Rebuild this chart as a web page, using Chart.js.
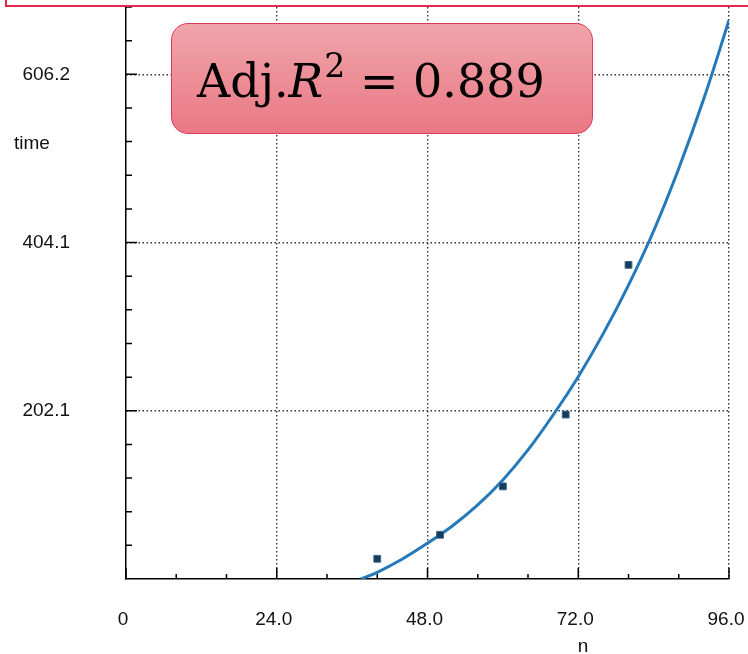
<!DOCTYPE html>
<html><head><meta charset="utf-8">
<script src="https://cdn.jsdelivr.net/npm/chart.js@4.4.1/dist/chart.umd.min.js"></script>
<style>
html,body{margin:0;padding:0;background:#fff;overflow:hidden;}
#wrap{position:relative;width:748px;height:654px;}
#c{position:absolute;left:0;top:0;}
#frame{position:absolute;left:4.5px;top:-40px;width:800px;height:43px;border:2.5px solid #e6284f;}
#note{position:absolute;left:171px;top:23px;width:422px;height:111px;box-sizing:border-box;border:1.5px solid #e0385c;border-radius:17px;background:linear-gradient(#f0a5aa,#ea7884);}
#noteText{position:absolute;left:25px;top:34px;font-family:"DejaVu Serif",serif;font-size:46px;line-height:46px;white-space:pre;color:#000;}
#noteText .it{font-style:italic;}
#noteText .sup{font-size:0.72em;position:relative;top:-0.6em;line-height:0;margin-left:1px;}
</style></head>
<body><div id="wrap">
<canvas id="c" width="748" height="654"></canvas>
<div id="frame"></div>
<div id="note"><div id="noteText">Adj.<span class="it">R</span><span class="sup">2</span> = 0.889</div></div>
</div>
<script>
// ---- data ----
const nValues = [40, 50, 60, 70, 80];
const timeValues = [24.3, 53.1, 111.2, 197.5, 377.3];
const fitN = [37.4, 40, 44, 48, 52, 56, 60, 64, 68, 72, 76, 80, 84, 88, 92, 96];
const fitTime = [0, 8, 24, 43, 64, 89, 119, 155, 197, 243, 295, 353, 418, 493, 577, 671];
const xTickValues = [0, 24, 48, 72, 96];
const xTickLabels = ['0', '24.0', '48.0', '72.0', '96.0'];
const xMinorValues = [8, 16, 32, 40, 56, 64, 80, 88];
const yTickValues = [202.05, 404.1, 606.15];
const yTickLabels = ['202.1', '404.1', '606.2'];
const yMinorValues = [40.41, 80.82, 121.23, 161.64, 242.46, 282.87, 323.28, 363.69, 444.51, 484.92, 525.33, 565.74, 646.56, 686.97];
const xTitle = 'n';
const yTitle = 'time';
const xMax = 96;
const yMax = 687;

const FONT = '"Liberation Sans", Arial, sans-serif';
const GRID = '#333333';

const tickPlugin = {
  id: 'innerTicks',
  beforeDatasetsDraw(chart) {
    const {ctx, chartArea: a, scales: {x, y}} = chart;
    ctx.save();
    ctx.strokeStyle = '#000';
    ctx.lineWidth = 1.5;
    ctx.beginPath();
    xMinorValues.forEach(v => { const p = x.getPixelForValue(v); ctx.moveTo(p, a.bottom); ctx.lineTo(p, a.bottom - 5); });
    xTickValues.forEach(v => { const p = x.getPixelForValue(v); ctx.moveTo(p, a.bottom); ctx.lineTo(p, a.bottom - 11); });
    yMinorValues.forEach(v => { const p = y.getPixelForValue(v); ctx.moveTo(a.left, p); ctx.lineTo(a.left + 6, p); });
    yTickValues.forEach(v => { const p = y.getPixelForValue(v); ctx.moveTo(a.left, p); ctx.lineTo(a.left + 11, p); });
    ctx.stroke();
    ctx.restore();
  },
  afterDraw(chart) {
    const {ctx} = chart;
    ctx.save();
    ctx.fillStyle = '#111';
    ctx.font = '19px ' + FONT;
    ctx.textBaseline = 'alphabetic';
    ctx.textAlign = 'left';
    ctx.fillText(yTitle, 14, 148.5);
    ctx.textAlign = 'center';
    ctx.fillText(xTitle, 583, 652);
    ctx.restore();
  }
};

new Chart(document.getElementById('c'), {
  type: 'scatter',
  data: {
    datasets: [
      {
        data: nValues.map((n, i) => ({x: n, y: timeValues[i]})),
        showLine: false,
        pointStyle: 'rect',
        pointRadius: 4.8,
        pointBackgroundColor: '#123b5c',
        pointBorderColor: '#3d6585',
        pointBorderWidth: 1,
        order: 0
      },
      {
        data: fitN.map((n, i) => ({x: n, y: fitTime[i]})),
        showLine: true,
        borderColor: '#2479bb',
        borderWidth: 3,
        pointRadius: 0,
        tension: 0.4,
        fill: false,
        order: 1
      }
    ]
  },
  options: {
    responsive: false,
    animation: false,
    devicePixelRatio: 1,
    layout: {padding: {left: 0, right: 19, top: 7, bottom: 0}},
    plugins: {legend: {display: false}, tooltip: {enabled: false}, title: {display: false}},
    scales: {
      x: {
        type: 'linear', min: 0, max: xMax,
        afterBuildTicks: s => { s.ticks = xTickValues.map(v => ({value: v})); },
        afterFit: s => { s.height = 75; s.paddingLeft = 0; s.paddingRight = 0; },
        ticks: {
          autoSkip: false, maxRotation: 0, padding: 29, labelOffset: -3,
          color: '#111', font: {family: FONT, size: 19},
          callback: (v, i) => xTickLabels[i]
        },
        grid: {
          drawTicks: false,
          color: c => (c.tick && c.tick.value !== 0) ? GRID : 'rgba(0,0,0,0)',
          lineWidth: 1.4
        },
        border: {display: true, color: '#000', width: 1.5, dash: [1.5, 2.5]}
      },
      y: {
        type: 'linear', min: 0, max: yMax,
        afterBuildTicks: s => { s.ticks = yTickValues.map(v => ({value: v})); },
        afterFit: s => { s.width = 126; s.paddingTop = 0; s.paddingBottom = 0; },
        ticks: {
          autoSkip: false, padding: 56,
          color: '#111', font: {family: FONT, size: 19},
          callback: (v, i) => yTickLabels[i]
        },
        grid: {drawTicks: false, color: GRID, lineWidth: 1.4},
        border: {display: true, color: '#000', width: 1.5, dash: [1.5, 2.5]}
      }
    }
  },
  plugins: [tickPlugin]
});
</script>
</body></html>
